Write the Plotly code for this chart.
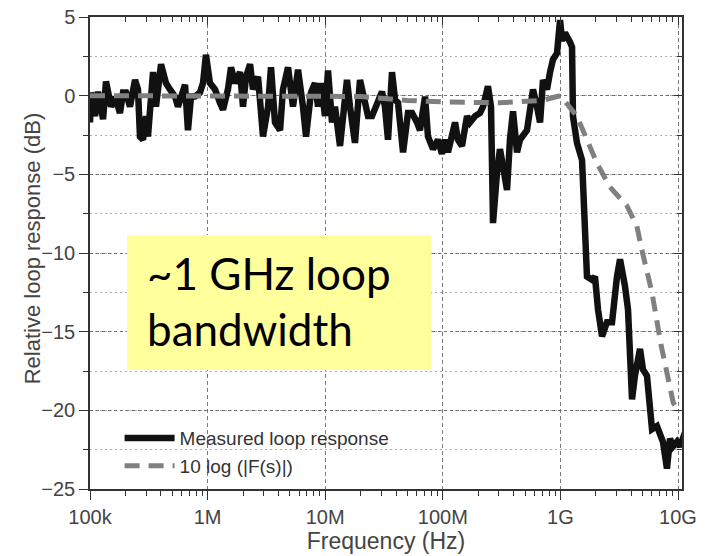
import plotly.graph_objects as go

# ---- data ----
# measured loop response: log10(frequency in Hz) and relative response in dB
meas_log_freq = [5.000, 5.0085, 5.0425, 5.068, 5.111, 5.136, 5.179, 5.213, 5.255, 5.281,
                 5.306, 5.340, 5.383, 5.408, 5.425, 5.451, 5.476, 5.493, 5.536, 5.561,
                 5.604, 5.646, 5.680, 5.723, 5.748, 5.808, 5.833, 5.859, 5.893, 5.935,
                 5.961, 5.986, 6.020, 6.063, 6.105, 6.131, 6.173, 6.199, 6.233, 6.276,
                 6.301, 6.327, 6.361, 6.386, 6.429, 6.471, 6.514, 6.539, 6.573, 6.616,
                 6.641, 6.684, 6.726, 6.769, 6.811, 6.837, 6.879, 6.913, 6.939, 6.964,
                 6.998, 7.024, 7.058, 7.083, 7.126, 7.185, 7.211, 7.253, 7.296, 7.338,
                 7.364, 7.398, 7.449, 7.483, 7.508, 7.534, 7.568, 7.594, 7.619, 7.662,
                 7.704, 7.738, 7.781, 7.806, 7.849, 7.874, 7.917, 7.959, 7.993, 8.019,
                 8.044, 8.078, 8.104, 8.129, 8.163, 8.206, 8.231, 8.274, 8.316, 8.342,
                 8.376, 8.384, 8.410, 8.427, 8.461, 8.486, 8.512, 8.546, 8.571, 8.597,
                 8.631, 8.656, 8.716, 8.767, 8.801, 8.827, 8.852, 8.886, 8.912, 8.937,
                 8.971, 8.997, 9.014, 9.039, 9.082, 9.099, 9.107, 9.141, 9.184, 9.209,
                 9.226, 9.269, 9.294, 9.320, 9.354, 9.396, 9.439, 9.481, 9.507, 9.549,
                 9.575, 9.609, 9.634, 9.677, 9.702, 9.736, 9.779, 9.821, 9.847, 9.872,
                 9.906, 9.932, 9.957, 9.991, 10.017, 10.060]
meas_db = [-1.7, 0.2, -1.3, 0.25, -1.5, 0.9, -0.7, -0.06, -1.1, 0.2,
           0.2, -0.7, 1.0, 0.4, -2.6, -2.8, -1.3, -2.6, 1.5, -0.7,
           2.0, 0.8, 0.4, -0.06, -0.7, 0.7, -2.2, -0.06, -0.06, 0.2,
           0.8, 2.6, 0.8, 0.4, -0.45, -0.9, 0.4, 1.8, 0.8, 1.5,
           -0.7, 1.2, 2.0, 0.4, 1.2, -2.6, -0.7, 1.8, -1.7, -2.2,
           0.4, 1.8, -0.7, 1.65, -0.7, -2.6, 0.2, 0.8, -0.7, 0.8,
           -1.3, 1.6, -1.7, -0.7, -3.2, 1.0, -0.7, -3.0, 1.0, -0.7,
           -1.3, -1.3, -0.25, 0.25, -0.7, -2.8, 1.5, -0.25, -0.45, -3.6,
           -1.1, -1.1, -1.7, -2.2, -0.06, -2.6, -3.4, -2.8, -3.7, -2.8,
           -3.6, -2.35, -1.7, -2.8, -3.2, -1.3, -1.7, -1.3, -1.1, -0.7,
           0.4, 0.6, -0.7, -8.1, -4.9, -3.4, -4.5, -6.0, -2.8, -1.0,
           -3.6, -2.8, -2.2, 0.4, -0.7, -1.7, 1.0, 0.4, 1.5, 2.3,
           2.7, 4.8, 3.5, 4.0, 3.4, 3.1, -1.3, -3.0, -4.1, -9.3,
           -11.5, -11.7, -11.5, -13.6, -15.3, -14.4, -14.4, -11.5, -10.4, -12.1,
           -13.6, -19.3, -17.8, -16.1, -17.4, -17.8, -21.2, -21.0, -21.6, -22.0,
           -23.7, -21.8, -22.3, -22.0, -22.3, -21.4]

# model 10 log(|F(s)|)
model_freq_hz = [1e5, 1e7, 2e7, 5e7, 1e8, 3e8, 7e8, 1e9, 1.38e9, 2.05e9, 2.63e9,
                 3.68e9, 4.47e9, 5.0e9, 6.0e9, 7.2e9, 9.1e9, 1.0e10]
model_db = [0, 0, -0.05, -0.3, -0.4, -0.45, -0.3, 0, -1.3, -4.3, -5.8,
            -7.0, -8.3, -10.0, -12.5, -15.9, -19.5, -20.0]

x_tick_vals = [1e5, 1e6, 1e7, 1e8, 1e9, 1e10]
x_tick_text = ["100k", "1M", "10M", "100M", "1G", "10G"]
y_tick_vals = [5, 0, -5, -10, -15, -20, -25]

series_names = ["Measured loop response", "10 log (|F(s)|)"]
annotation_lines = ["~1 GHz loop", "bandwidth"]
x_title = "Frequency (Hz)"
y_title = "Relative loop response (dB)"

meas_freq_hz = [10 ** v for v in meas_log_freq]
minor_x = [m * d for d in [1e5, 1e6, 1e7, 1e8, 1e9, 1e10] for m in range(2, 10)]

x_range = [5, 10.034]
y_range = [-25, 5]
axis_color = "#333333"
text_color = "#444444"
font_axis = "Liberation Sans, Arial, sans-serif"

fig = go.Figure()
fig.add_trace(go.Scatter(x=meas_freq_hz, y=meas_db, mode="lines",
                         name=series_names[0],
                         line=dict(color="#111111", width=6.5)))
fig.add_trace(go.Scatter(x=model_freq_hz, y=model_db, mode="lines",
                         name=series_names[1],
                         line=dict(color="#808080", width=5, dash="15px,9px")))
# empty trace to activate the mirror axes (inside ticks on top/right)
fig.add_trace(go.Scatter(x=[], y=[], xaxis="x2", yaxis="y2", showlegend=False))

common_x = dict(type="log", range=x_range, tickvals=x_tick_vals, ticktext=x_tick_text)
fig.update_layout(
    width=709, height=556,
    margin=dict(l=90, r=27, t=17, b=67, autoexpand=False),
    paper_bgcolor="white", plot_bgcolor="white",
    font=dict(family=font_axis, color=text_color, size=20),
    xaxis=dict(**common_x, showline=True, linecolor=axis_color, linewidth=1.5, mirror=True,
               ticks="outside", ticklen=9, tickwidth=1.2, tickcolor=axis_color,
               showgrid=True, gridcolor="#7a7a7a", griddash="4px,3px", gridwidth=1,
               minor=dict(tickvals=minor_x, ticks="outside", ticklen=5, tickcolor=axis_color,
                          showgrid=False),
               tickfont=dict(size=20, color=text_color), automargin=False,
               title=dict(text=x_title, font=dict(size=23, color=text_color), standoff=4),
               zeroline=False),
    yaxis=dict(range=y_range, tickvals=y_tick_vals, showline=True, linecolor=axis_color,
               linewidth=1.5, mirror=True, ticks="outside", ticklen=9, tickwidth=1.2,
               tickcolor=axis_color, showgrid=True, gridcolor="#6e6e6e", griddash="3px,3px",
               gridwidth=1, automargin=False,
               minor=dict(dtick=2.5, tick0=0, ticks="outside", ticklen=5, tickcolor=axis_color,
                          showgrid=True, gridcolor="#b0b0b0", griddash="2px,3px", gridwidth=1),
               tickfont=dict(size=20, color=text_color),
               zeroline=False),
    xaxis2=dict(**common_x, overlaying="x", side="top", anchor="y", showticklabels=False,
                ticks="inside", ticklen=8, tickcolor=axis_color, showgrid=False, showline=False,
                automargin=False,
                minor=dict(tickvals=minor_x, ticks="inside", ticklen=5, tickcolor=axis_color)),
    yaxis2=dict(range=y_range, tickvals=y_tick_vals, overlaying="y", side="right", anchor="x",
                showticklabels=False, ticks="inside", ticklen=8, tickcolor=axis_color,
                showgrid=False, showline=False, zeroline=False, automargin=False,
                minor=dict(dtick=2.5, tick0=0, ticks="inside", ticklen=5, tickcolor=axis_color)),
    legend=dict(x=0.05, y=0.148, xanchor="left", yanchor="top", bgcolor="rgba(0,0,0,0)",
                font=dict(size=19, color="#333333"), itemwidth=50, tracegroupgap=0),
    showlegend=True,
)

# y axis title placed close to the tick labels as in the reference
fig.add_annotation(text=y_title, xref="paper", yref="paper", x=-0.098, y=0.51,
                   xanchor="center", yanchor="middle", textangle=-90, showarrow=False,
                   font=dict(family=font_axis, size=22, color=text_color))

fig.add_shape(type="rect", xref="paper", yref="paper", x0=0.0625, x1=0.576, y0=0.252, y1=0.538,
              fillcolor="#FFFF9C", line=dict(width=0), layer="above")
fig.add_annotation(text=annotation_lines[0], xref="paper", yref="paper", x=0.093, y=0.458,
                   xanchor="left", yanchor="middle", showarrow=False,
                   font=dict(family="Lato, Open Sans, sans-serif", size=44, color="black"))
fig.add_annotation(text=annotation_lines[1], xref="paper", yref="paper", x=0.093, y=0.338,
                   xanchor="left", yanchor="middle", showarrow=False,
                   font=dict(family="Lato, Open Sans, sans-serif", size=44, color="black"))

fig.write_html("out.html")
